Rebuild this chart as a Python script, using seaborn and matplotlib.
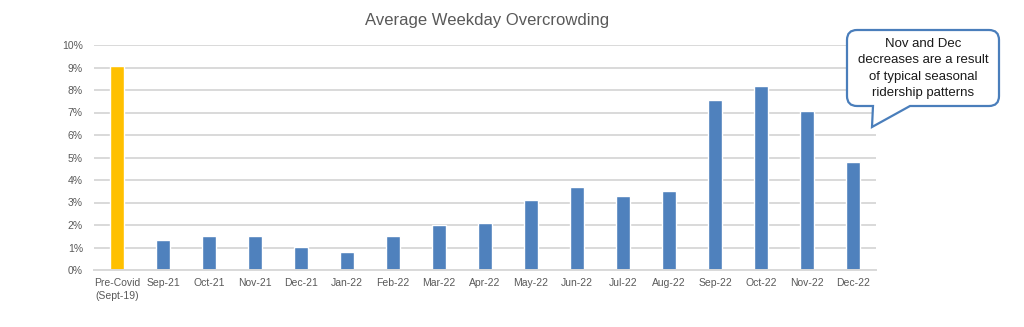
import matplotlib
matplotlib.use("Agg")
import matplotlib.pyplot as plt
import seaborn as sns
import pandas as pd
from matplotlib.path import Path
from matplotlib.patches import PathPatch
from matplotlib.ticker import PercentFormatter, MultipleLocator
import matplotlib.transforms as mtransforms

categories = ["Pre-Covid\n(Sept-19)", "Sep-21", "Oct-21", "Nov-21", "Dec-21", "Jan-22",
              "Feb-22", "Mar-22", "Apr-22", "May-22", "Jun-22", "Jul-22", "Aug-22",
              "Sep-22", "Oct-22", "Nov-22", "Dec-22"]
values = [9.05, 1.33, 1.52, 1.52, 1.02, 0.80, 1.52, 2.02, 2.09, 3.13, 3.69, 3.27,
          3.51, 7.56, 8.18, 7.07, 4.82]
groups = ["pre"] + ["post"] * 16
title = "Average Weekday Overcrowding"
callout = "Nov and Dec\ndecreases are a result\nof typical seasonal\nridership patterns"

df = pd.DataFrame({"month": categories, "value": values, "group": groups})

sns.set_style("white")
plt.rcParams["font.family"] = ["Liberation Sans", "DejaVu Sans"]

fig = plt.figure(figsize=(10.24, 3.27), dpi=100)
ax = fig.add_axes([94/1024, 1-270/327, (876-94)/1024, (270-45)/327])

sns.barplot(data=df, x="month", y="value", hue="group",
            palette={"pre": "#ffc000", "post": "#4f81bd"},
            width=0.32, dodge=False, legend=False, ax=ax, saturation=1)

ax.set_ylim(0, 10)
ax.set_xlim(-0.5, len(categories) - 0.5)
ax.yaxis.set_major_locator(MultipleLocator(1))
ax.yaxis.set_major_formatter(PercentFormatter(decimals=0))
ax.grid(axis="y", color="#d9d9d9", linewidth=1.4)
ax.set_axisbelow(True)
for s in ["top", "right", "left"]:
    ax.spines[s].set_visible(False)
ax.spines["bottom"].set_color("#d9d9d9")
ax.spines["bottom"].set_linewidth(1.4)
ax.set_xlabel("")
ax.set_ylabel("")
ax.tick_params(axis="x", which="major", length=0, pad=6, labelsize=7.5, labelcolor="#595959")
ax.tick_params(axis="y", length=0, pad=8, labelsize=7.5, labelcolor="#595959")
ax.set_xticks([i + 0.5 for i in range(-1, len(categories))], minor=True)
ax.tick_params(axis="x", which="minor", length=4, color="#d9d9d9", width=1.3)
for lab in ax.get_xticklabels():
    lab.set_linespacing(1.3)

fig.text(487/1024, 1 - 20/327, title, ha="center", va="center", fontsize=12,
         color="#595959")

# callout box in pixel coordinates
trans = mtransforms.Affine2D().scale(1/1024, -1/327).translate(0, 1) + fig.transFigure
x0, x1, y0, y1, r = 847, 999, 30, 106, 10
t0, t1, tip = 873, 910, (872, 127)
verts = [
    (x0 + r, y0), (x1 - r, y0), (x1, y0), (x1, y0 + r),
    (x1, y1 - r), (x1, y1), (x1 - r, y1),
    (t1, y1), tip, (t0, y1),
    (x0 + r, y1), (x0, y1), (x0, y1 - r),
    (x0, y0 + r), (x0, y0), (x0 + r, y0), (x0 + r, y0)
]
codes = [Path.MOVETO, Path.LINETO, Path.CURVE3, Path.CURVE3,
         Path.LINETO, Path.CURVE3, Path.CURVE3,
         Path.LINETO, Path.LINETO, Path.LINETO,
         Path.LINETO, Path.CURVE3, Path.CURVE3,
         Path.LINETO, Path.CURVE3, Path.CURVE3, Path.CLOSEPOLY]
patch = PathPatch(Path(verts, codes), transform=trans, facecolor="white",
                  edgecolor="#4a7ebb", linewidth=1.6, zorder=5)
fig.add_artist(patch)
fig.text(923/1024, 1 - 68.5/327, callout, ha="center", va="center", fontsize=9.5,
         color="#1a1a1a", linespacing=1.5, zorder=6)

fig.savefig("out.png", dpi=100)
